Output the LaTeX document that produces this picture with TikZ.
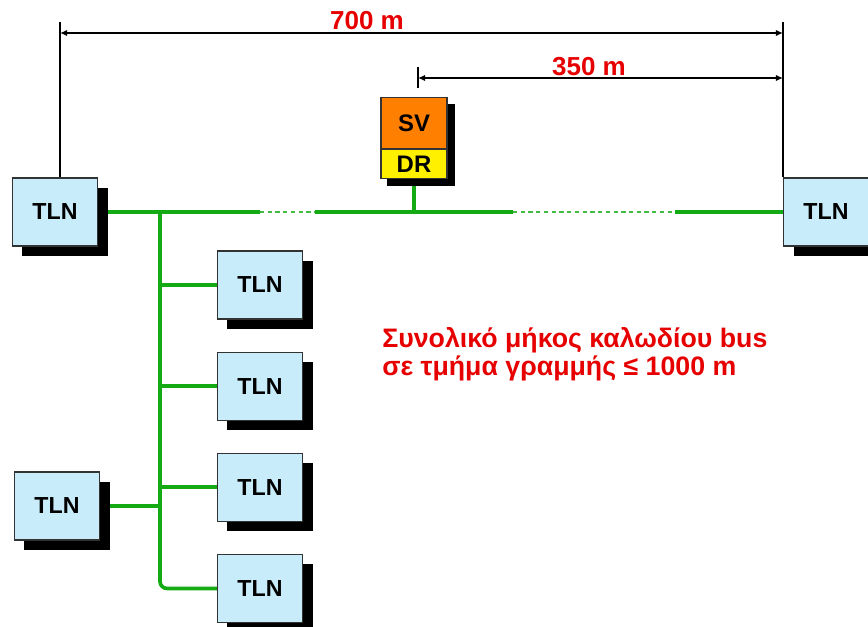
\documentclass[tikz,border=0pt]{standalone}
\usepackage{fontspec}
\setmainfont{Liberation Sans}
\usetikzlibrary{arrows.meta, positioning, shadows, backgrounds}
\definecolor{tlnblue}{RGB}{200,236,250}
\definecolor{svorange}{RGB}{255,128,0}
\definecolor{dryellow}{RGB}{255,240,0}
\definecolor{busgreen}{RGB}{20,170,20}
\definecolor{notered}{RGB}{230,0,0}
\tikzset{
  tln/.style={rectangle,draw=black!80,line width=0.8pt,fill=tlnblue,minimum width=2.125cm,minimum height=1.7cm,inner sep=0pt,
    font=\fontsize{16.5}{19}\selectfont\bfseries,
    drop shadow={shadow xshift=0.25cm,shadow yshift=-0.25cm,fill=black,opacity=1}},
  unit/.style={rectangle,draw=black!80,line width=0.8pt,minimum width=1.65cm,inner sep=0pt,font=\fontsize{17}{19}\selectfont\bfseries},
  bus/.style={busgreen,line width=2.6pt},
  busdot/.style={busgreen!80,line width=2pt,dash pattern=on 3pt off 2.5pt},
  dim/.style={line width=2pt,{Latex[length=5pt,width=4.5pt]}-{Latex[length=5pt,width=4.5pt]}},
  tick/.style={line width=2pt},
  dimlabel/.style={text=notered,font=\fontsize{18.5}{20}\selectfont\bfseries,inner sep=1pt}
}

\begin{document}
\begin{tikzpicture}[x=0.025cm,y=-0.025cm,node distance=0.8cm]
\useasboundingbox (0,0) rectangle (868,626);
% stations on the main bus
\node[tln] (tlnA) at (55,212) {TLN};
\node[tln] (tlnB) at (826,212) {TLN};
\node[unit,fill=dryellow,minimum height=0.725cm] (dr) at (414,164) {DR};
\node[unit,fill=svorange,minimum height=1.275cm,above=0pt of dr] (sv) {SV};
% stub line
\node[tln] (t1) at (260,285) {TLN};
\node[tln,below=of t1] (t2) {TLN};
\node[tln,below=of t2] (t3) {TLN};
\node[tln,below=of t3] (t4) {TLN};
\node[tln] (tlnL) at (57,506) {TLN};

\coordinate (tap) at (160,212);
\coordinate (g1) at (260,212);
\coordinate (g2) at (315,212);
\coordinate (g3) at (513,212);
\coordinate (g4) at (675,212);

\begin{scope}[on background layer]
\draw[bus] (tlnA.east) -- (g1);
\draw[busdot] (g1) -- (g2);
\draw[bus] (g2) -- (g3);
\draw[busdot] (g3) -- (g4);
\draw[bus] (g4) -- (tlnB.west);
\draw[bus,rounded corners=5] (tap) |- (t4.west);
\foreach \n in {t1,t2,t3}
  \draw[bus] (\n.west) -- (\n.west -| tap);
\draw[bus] (tlnL.east) -- (tlnL.east -| tap);
\draw[bus] (dr.south) -- (dr.south |- tap);
\fill[black] ([shift={(7,7)}]sv.north west) rectangle ([shift={(7,7)}]dr.south east);
\end{scope}

% distances
\coordinate (dimL) at (60,22);
\coordinate (dimR) at (783,22);
\coordinate (a700) at (60,33);
\coordinate (a350) at (418,78);
\draw[tick] (dimL) -- (dimL |- tlnA.north);
\draw[tick] (dimR) -- (dimR |- tlnB.north);
\draw[tick] ([yshift=0.27cm]a350) -- ([yshift=-0.25cm]a350);
\draw[dim] (a700) -- (a700 -| dimR);
\draw[dim] (a350) -- (a350 -| dimR);
\node[dimlabel] (l700) at (367,21) {700 m};
\node[dimlabel] (l350) at (589,67) {350 m};

\node[text=notered,font=\fontsize{19}{20}\selectfont\bfseries,align=left,anchor=west,inner sep=0pt] (note) at (382,354)
  {Συνολικό μήκος καλωδίου bus\\σε τμήμα γραμμής ≤ 1000 m};
\end{tikzpicture}
\end{document}
